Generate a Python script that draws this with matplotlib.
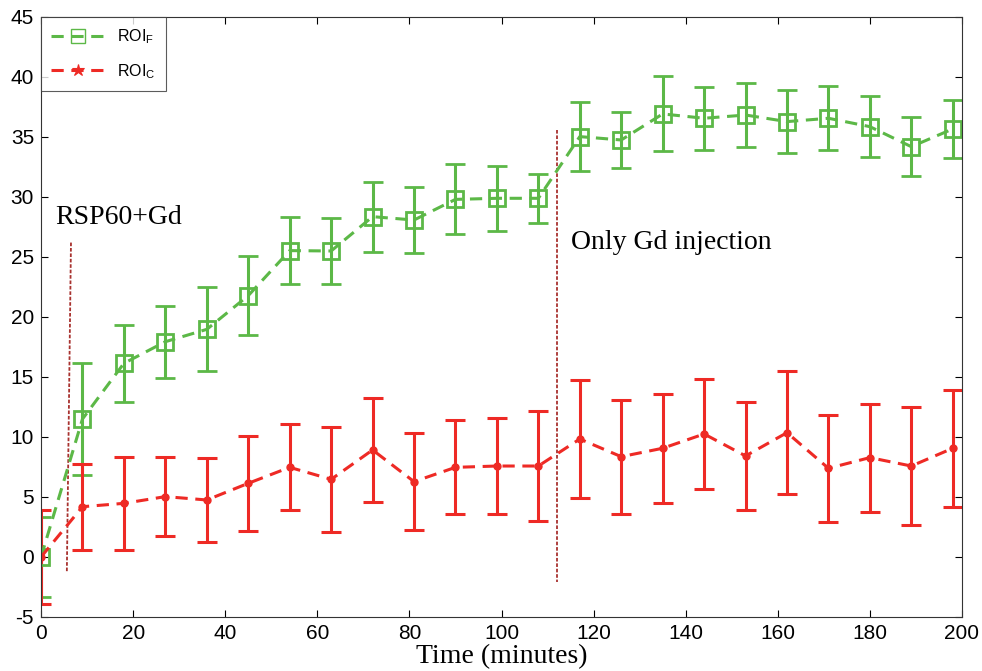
import numpy as np
import matplotlib
matplotlib.use('Agg')
import matplotlib.pyplot as plt
from matplotlib.lines import Line2D

plt.rcParams['axes.unicode_minus'] = False

##################
### Data #########
##################

time_min = [0, 9, 18, 27, 36, 45, 54, 63, 72, 81, 90, 99, 108,
            117, 126, 135, 144, 153, 162, 171, 180, 189, 198]

roi_f_mean = [0, 11.5, 16.14, 17.94, 18.97, 21.78, 25.53, 25.5, 28.36, 28.08, 29.8, 29.89, 29.89,
              35.03, 34.75, 36.92, 36.56, 36.83, 36.28, 36.56, 35.86, 34.19, 35.67]
roi_f_err = [3.3, 4.7, 3.2, 3.0, 3.5, 3.3, 2.77, 2.78, 2.92, 2.75, 2.92, 2.71, 2.05,
             2.86, 2.31, 3.13, 2.61, 2.66, 2.6, 2.68, 2.53, 2.45, 2.39]

roi_c_mean = [0, 4.19, 4.47, 5.03, 4.75, 6.14, 7.47, 6.47, 8.92, 6.28, 7.47, 7.58, 7.58,
              9.83, 8.36, 9.06, 10.25, 8.42, 10.36, 7.39, 8.28, 7.58, 9.06]
roi_c_err = [3.9, 3.57, 3.86, 3.27, 3.5, 3.96, 3.59, 4.35, 4.31, 4.03, 3.92, 4.03, 4.55,
             4.93, 4.75, 4.52, 4.61, 4.5, 5.11, 4.45, 4.5, 4.93, 4.86]

# injection markers: (x_top, y_top, x_bottom, y_bottom)
inject1 = [6.5, 26.2, 5.6, -1.3]
inject2 = [112.0, 35.6, 112.0, -2.1]

GREEN = '#5cb847'
RED = '#ee2a25'
DARKRED = '#a8322f'

################
### Plotting ###
################

fig = plt.figure(figsize=(9.82, 6.71), dpi=100)
ax = fig.add_axes([0.0418, 0.0805, 0.9378, 0.8942])

ax.errorbar(time_min, roi_f_mean, yerr=roi_f_err, color=GREEN, ls='--', lw=2.2,
            marker='s', ms=11, mfc='none', mec=GREEN, mew=2,
            elinewidth=2.2, capsize=7, capthick=2.2, dashes=(4, 2.5))
ax.errorbar(time_min, roi_c_mean, yerr=roi_c_err, color=RED, ls='--', lw=2.2,
            marker='o', ms=5, mfc=RED, mec=RED,
            elinewidth=2.2, capsize=7, capthick=2.2, dashes=(4, 2.5))

ax.plot(inject1[0::2], inject1[1::2], color=DARKRED, lw=1.3, ls=(0, (2, 1)))
ax.plot(inject2[0::2], inject2[1::2], color=DARKRED, lw=1.3, ls=(0, (2, 1)))

ax.text(3, 28.3, 'RSP60+Gd', fontsize=20, family='Liberation Serif', va='center', ha='left')
ax.text(115, 26.2, 'Only Gd injection', fontsize=20, family='Liberation Serif', va='center', ha='left')

ax.set_xlim(0, 200)
ax.set_ylim(-5, 45)
ax.set_xticks(np.arange(0, 201, 20))
ax.set_yticks(np.arange(-5, 46, 5))
ax.tick_params(direction='in', top=True, right=True, labelsize=15, length=5, width=0.8, pad=5)
for lbl in ax.get_xticklabels() + ax.get_yticklabels():
    lbl.set_family('Liberation Sans')
for sp in ax.spines.values():
    sp.set_linewidth(0.8)
    sp.set_color('#333333')

ax.set_xlabel('Time (minutes)', fontsize=20, family='Liberation Serif', labelpad=1)

handles = [Line2D([], [], color=GREEN, ls='--', lw=2.2, dashes=(4, 2.5), marker='s', ms=10,
                  mfc='none', mec=GREEN, mew=1),
           Line2D([], [], color=RED, ls='--', lw=2.2, dashes=(4, 2.5), marker='*', ms=9,
                  mfc=RED, mec=RED, mew=0.8)]
leg = ax.legend(handles, [r'ROI$_\mathregular{F}$', r'ROI$_\mathregular{C}$'],
                loc='upper left', frameon=True, fancybox=False,
                borderaxespad=0, handlelength=3.3, borderpad=0.65, labelspacing=1.0,
                prop={'family': 'Liberation Sans', 'size': 11.5})
leg.get_frame().set_edgecolor('#333333')
leg.get_frame().set_linewidth(0.8)

fig.savefig('out.png', dpi=100)
